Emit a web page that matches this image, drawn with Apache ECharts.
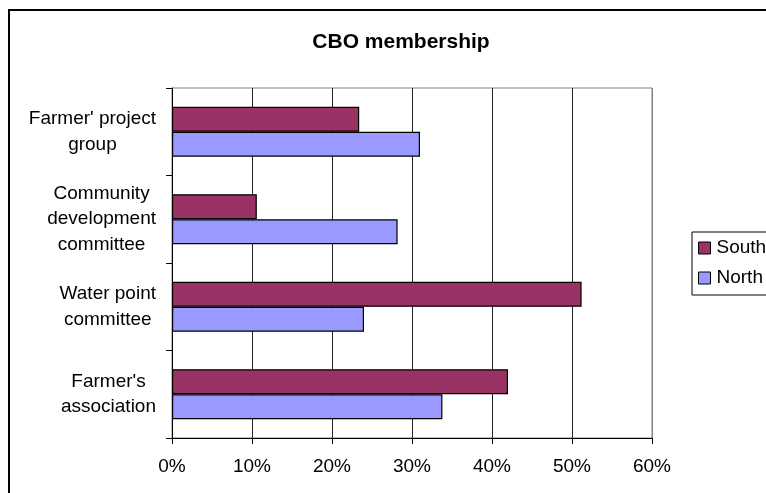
<!DOCTYPE html>
<html>
<head>
<meta charset="utf-8">
<script src="https://cdn.jsdelivr.net/npm/echarts@6/dist/echarts.min.js"></script>
<style>
  html, body { margin: 0; padding: 0; background: #fff; }
  #chart { width: 766px; height: 493px; }
</style>
</head>
<body>
<div id="chart"></div>
<script>
// categories bottom to top (y category axis grows upward)
var categories = [
  "Farmer's\nassociation",
  "Water point\ncommittee",
  "Community\ndevelopment\ncommittee",
  "Farmer' project\ngroup"
];
var southValues = [42.0, 51.2, 10.6, 23.4];
var northValues = [33.8, 24.0, 28.2, 31.0];
var xTicks = [0, 10, 20, 30, 40, 50, 60];

var font = "'Liberation Sans', Arial, sans-serif";
var chart = echarts.init(document.getElementById("chart"));

var option = {
  animation: false,
  backgroundColor: "#fff",
  textStyle: { fontFamily: font },
  title: {
    text: "CBO membership",
    left: 396,
    textAlign: "center",
    top: 27,
    textStyle: { fontFamily: font, fontSize: 21, fontWeight: "bold", color: "#000" }
  },
  graphic: [
    {
      type: "rect",
      shape: { x: 9, y: 10, width: 820, height: 600 },
      style: { fill: "none", stroke: "#000", lineWidth: 2 },
      silent: true
    }
  ],
  legend: {
    orient: "vertical",
    left: 692,
    top: 232,
    padding: [5, 6, 6, 6],
    itemGap: 8,
    itemWidth: 12,
    itemHeight: 12,
    icon: "rect",
    borderColor: "#000",
    borderWidth: 1,
    itemStyle: { borderColor: "#000", borderWidth: 1 },
    textStyle: { fontFamily: font, fontSize: 19, color: "#000", lineHeight: 22, padding: [0, 0, 0, 1] },
    data: ["South", "North"]
  },
  grid: {
    left: 172,
    top: 88,
    width: 480,
    height: 350,
    show: true,
    borderColor: "#808080",
    borderWidth: 1,
    containLabel: false
  },
  xAxis: {
    type: "value",
    min: xTicks[0],
    max: xTicks[xTicks.length - 1],
    interval: 10,
    axisLine: { show: true, lineStyle: { color: "#000", width: 1 } },
    axisTick: { show: true, length: 6, lineStyle: { color: "#000" } },
    axisLabel: {
      margin: 19,
      fontFamily: font,
      fontSize: 19,
      color: "#000",
      formatter: "{value}%"
    },
    splitLine: {
      show: true,
      lineStyle: {
        color: ["#222", "#222", "#222", "#222", "#222", "#222", "#808080"],
        width: 1
      }
    }
  },
  yAxis: {
    type: "category",
    data: categories,
    axisLine: { show: true, lineStyle: { color: "#000", width: 1 } },
    axisTick: { show: true, length: 6, lineStyle: { color: "#000" } },
    axisLabel: {
      margin: 16,
      align: "right",
      fontFamily: font,
      fontSize: 19,
      lineHeight: 25.5,
      color: "#000",
      formatter: function (v) {
        return v.split("\n").map(function (s) { return "{c|" + s + "}"; }).join("\n");
      },
      rich: {
        c: { align: "center", fontFamily: font, fontSize: 19, lineHeight: 25.5, color: "#000" }
      }
    },
    splitLine: { show: false }
  },
  series: [
    {
      name: "South",
      type: "bar",
      data: southValues,
      barGap: "0%",
      barCategoryGap: "42.9%",
      itemStyle: { color: "#993366", borderColor: "#000", borderWidth: 1.2 }
    },
    {
      name: "North",
      type: "bar",
      data: northValues,
      barGap: "0%",
      barCategoryGap: "42.9%",
      itemStyle: { color: "#9999FF", borderColor: "#000", borderWidth: 1.2 }
    }
  ]
};

chart.setOption(option);
</script>
</body>
</html>
